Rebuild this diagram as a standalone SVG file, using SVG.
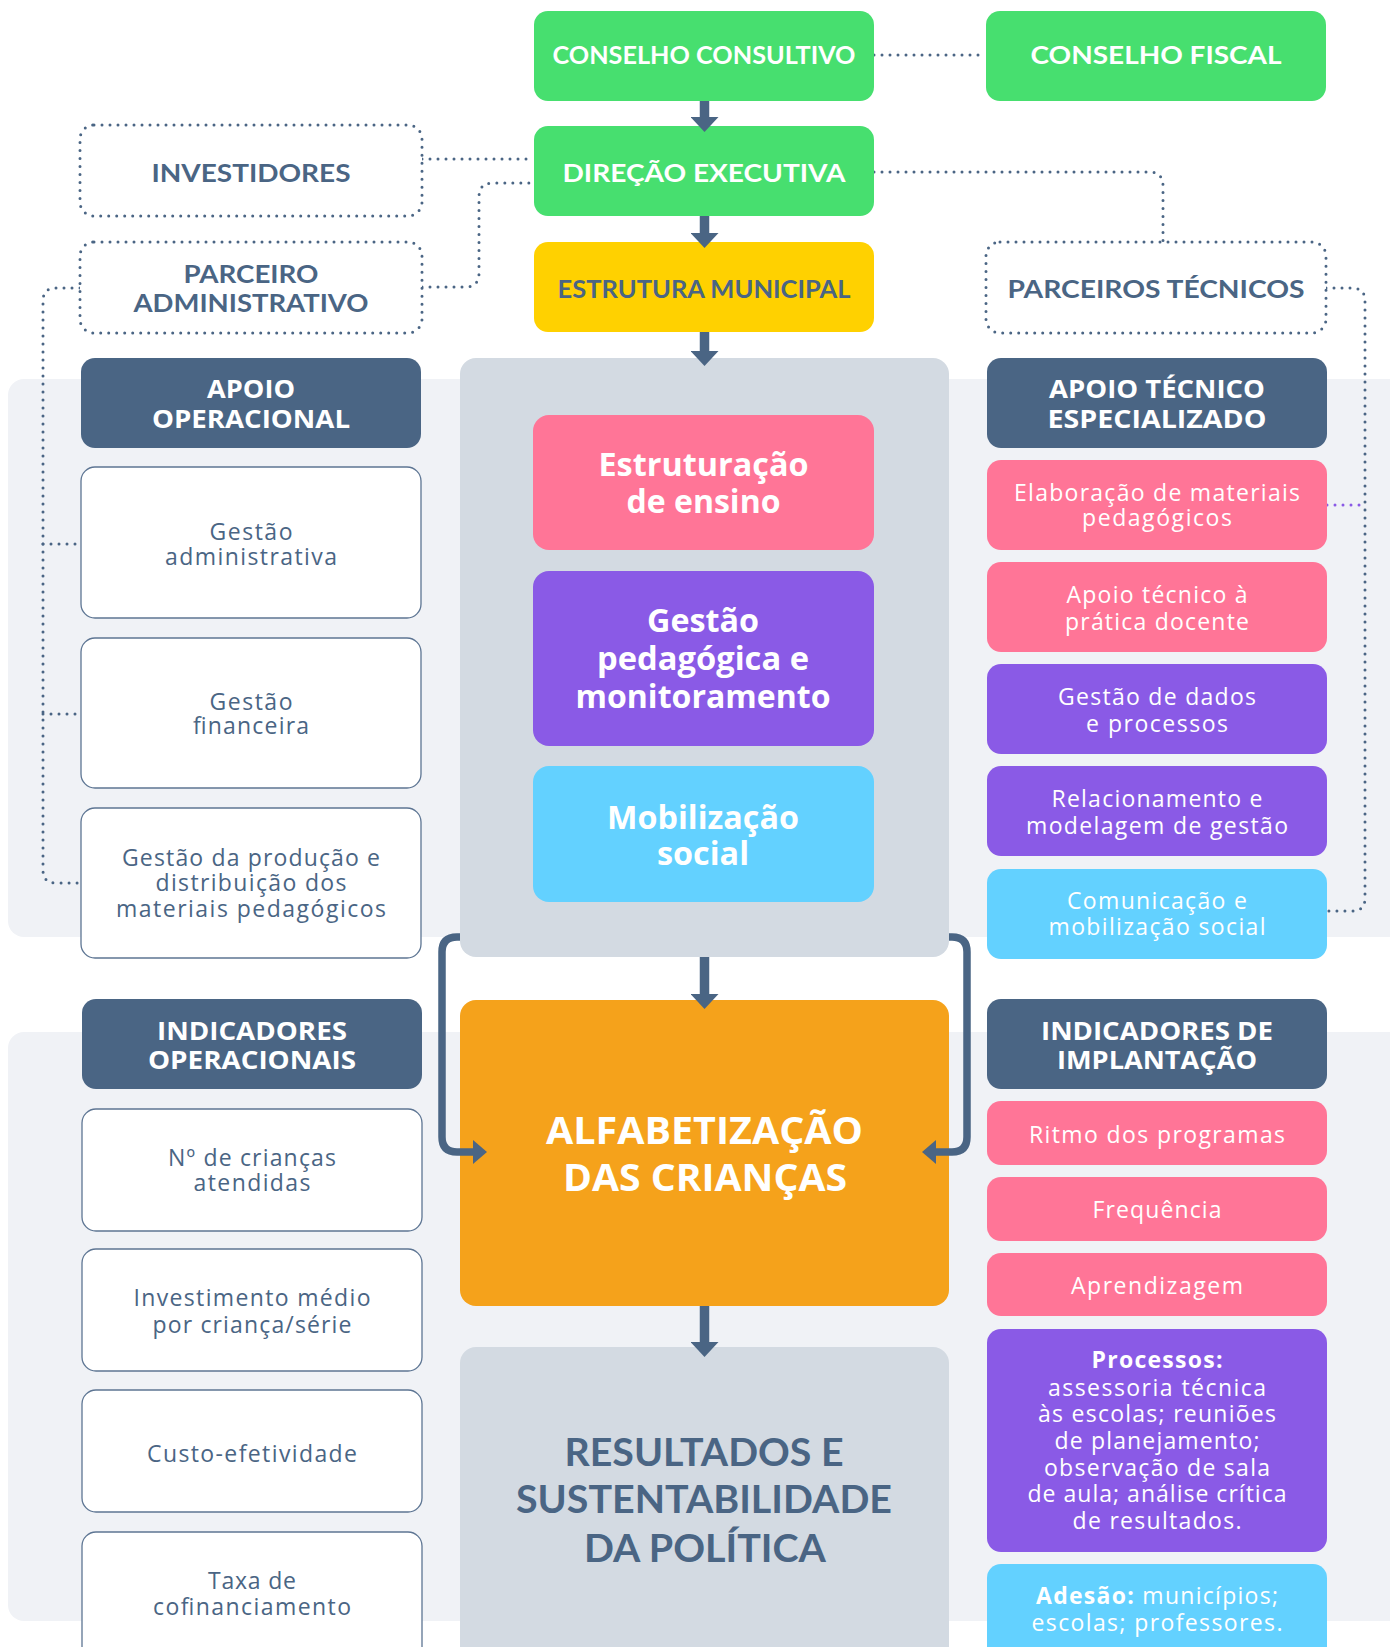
<svg xmlns="http://www.w3.org/2000/svg" width="1390" height="1647" viewBox="0 0 1390 1647">
<defs>
<style>
.green{fill:#47df6f}
.yellow{fill:#ffd100}
.slate{fill:#4a6584}
.pink{fill:#ff7597}
.purple{fill:#8a5ae6}
.cyan{fill:#63d1ff}
.orange{fill:#f5a21b}
.panel{fill:#d3dae2}
.band{fill:#f0f2f6}
.white{fill:#ffffff;stroke:#5d7593;stroke-width:1.3}
.dotbox{fill:#ffffff;stroke:#4a6584;stroke-width:3;stroke-dasharray:0 8;stroke-linecap:round}
.dot{fill:none;stroke:#4a6584;stroke-width:3;stroke-dasharray:0 8;stroke-linecap:round}
.dotp{fill:none;stroke:#8a5ae6;stroke-width:3;stroke-dasharray:0 8;stroke-linecap:round}
.shaft{fill:none;stroke:#4a6584;stroke-width:9.5}
.bracket{fill:none;stroke:#4a6584;stroke-width:7.5}
text{text-anchor:middle}
.top{font-family:Lato,"Liberation Sans",sans-serif;font-weight:700;font-size:25px}
.hd{font-family:"Open Sans","Liberation Sans",sans-serif;font-weight:700;font-size:25px;fill:#ffffff}
.bd{font-family:"Open Sans","Liberation Sans",sans-serif;font-weight:400;font-size:23px}
.cb{font-family:"Open Sans","Liberation Sans",sans-serif;font-weight:700;font-size:32px;fill:#ffffff}
.big{font-family:"Open Sans","Liberation Sans",sans-serif;font-weight:700;font-size:37px;fill:#ffffff}
.res{font-family:Lato,"Liberation Sans",sans-serif;font-weight:700;font-size:38px;fill:#4a6584}
.w{fill:#ffffff}
.s{fill:#4a6584}
.b{font-weight:700}
</style>
<marker id="ah" viewBox="0 0 15 28" refX="0" refY="14" markerWidth="15" markerHeight="28" markerUnits="userSpaceOnUse" orient="auto">
<path d="M0,0 L15,14 L0,28 Z" fill="#4a6584"/>
</marker>
<marker id="ah2" viewBox="0 0 14 24" refX="0" refY="12" markerWidth="14" markerHeight="24" markerUnits="userSpaceOnUse" orient="auto">
<path d="M0,0 L14,12 L0,24 Z" fill="#4a6584"/>
</marker>
</defs>

<g id="backgrounds">
<rect class="band" x="8" y="379" width="1400" height="558" rx="16"/>
<rect class="band" x="8" y="1032" width="1400" height="589" rx="16"/>
</g>

<g id="connectors-dotted">
<path class="dot" d="M874,55 H986"/>
<path class="dot" d="M422,159 H534"/>
<path class="dot" d="M422,287 H465 Q479,287 479,273 V197 Q479,183 493,183 H534"/>
<path class="dot" d="M874,172 H1149 Q1163,172 1163,186 V242"/>
<path class="dot" d="M1326,288 H1352 Q1365,288 1365,301 V898 Q1365,911 1352,911 H1327"/>
<path class="dotp" d="M1327,505 H1365"/>
<path class="dot" d="M80,288 H56 Q43,288 43,301 V870 Q43,883 56,883 H81"/>
<path class="dot" d="M43,544 H81"/>
<path class="dot" d="M43,714 H81"/>
</g>

<g id="node-conselho-consultivo">
<rect class="green" x="534" y="11" width="340" height="90" rx="14"/>
<text class="top w" x="704" y="64" textLength="303" lengthAdjust="spacingAndGlyphs">CONSELHO CONSULTIVO</text>
</g>
<g id="node-conselho-fiscal">
<rect class="green" x="986" y="11" width="340" height="90" rx="14"/>
<text class="top w" x="1156" y="64" textLength="251" lengthAdjust="spacingAndGlyphs">CONSELHO FISCAL</text>
</g>
<g id="node-direcao-executiva">
<rect class="green" x="534" y="126" width="340" height="90" rx="14"/>
<text class="top w" x="704" y="182" textLength="283" lengthAdjust="spacingAndGlyphs">DIREÇÃO EXECUTIVA</text>
</g>
<g id="node-investidores">
<rect class="dotbox" x="80" y="125" width="342" height="91" rx="14"/>
<text class="top s" x="251" y="182" textLength="199" lengthAdjust="spacingAndGlyphs">INVESTIDORES</text>
</g>
<g id="node-parceiro-administrativo">
<rect class="dotbox" x="80" y="242" width="342" height="91" rx="14"/>
<text class="top s"><tspan x="251" y="283" textLength="135" lengthAdjust="spacingAndGlyphs">PARCEIRO</tspan><tspan x="251" y="312" textLength="235" lengthAdjust="spacingAndGlyphs">ADMINISTRATIVO</tspan></text>
</g>
<g id="node-estrutura-municipal">
<rect class="yellow" x="534" y="242" width="340" height="90" rx="14"/>
<text class="top s" x="704" y="298" textLength="293" lengthAdjust="spacingAndGlyphs">ESTRUTURA MUNICIPAL</text>
</g>
<g id="node-parceiros-tecnicos">
<rect class="dotbox" x="986" y="242" width="340" height="91" rx="14"/>
<text class="top s" x="1156" y="298" textLength="297" lengthAdjust="spacingAndGlyphs">PARCEIROS TÉCNICOS</text>
</g>

<g id="node-apoio-operacional">
<rect class="slate" x="81" y="358" width="340" height="90" rx="14"/>
<text class="hd"><tspan x="251" y="398" textLength="88" lengthAdjust="spacingAndGlyphs">APOIO</tspan><tspan x="251" y="428" textLength="198" lengthAdjust="spacingAndGlyphs">OPERACIONAL</tspan></text>
</g>
<g id="node-gestao-administrativa">
<rect class="white" x="81" y="467" width="340" height="151" rx="14"/>
<text class="bd s"><tspan x="251" y="540" textLength="83" lengthAdjust="spacing">Gestão</tspan><tspan x="251" y="565" textLength="172" lengthAdjust="spacing">administrativa</tspan></text>
</g>
<g id="node-gestao-financeira">
<rect class="white" x="81" y="638" width="340" height="150" rx="14"/>
<text class="bd s"><tspan x="251" y="710" textLength="83" lengthAdjust="spacing">Gestão</tspan><tspan x="251" y="734" textLength="116" lengthAdjust="spacing">financeira</tspan></text>
</g>
<g id="node-gestao-producao">
<rect class="white" x="81" y="808" width="340" height="150" rx="14"/>
<text class="bd s"><tspan x="251" y="866" textLength="258" lengthAdjust="spacing">Gestão da produção e</tspan><tspan x="251" y="891" textLength="191" lengthAdjust="spacing">distribuição dos</tspan><tspan x="251" y="917" textLength="270" lengthAdjust="spacing">materiais pedagógicos</tspan></text>
</g>

<g id="node-apoio-tecnico">
<rect class="slate" x="987" y="358" width="340" height="90" rx="14"/>
<text class="hd"><tspan x="1157" y="398" textLength="216" lengthAdjust="spacingAndGlyphs">APOIO TÉCNICO</tspan><tspan x="1157" y="428" textLength="219" lengthAdjust="spacingAndGlyphs">ESPECIALIZADO</tspan></text>
</g>
<g id="node-elaboracao">
<rect class="pink" x="987" y="460" width="340" height="90" rx="14"/>
<text class="bd w"><tspan x="1157" y="501" textLength="286" lengthAdjust="spacing">Elaboração de materiais</tspan><tspan x="1157" y="526" textLength="150" lengthAdjust="spacing">pedagógicos</tspan></text>
</g>
<g id="node-apoio-pratica">
<rect class="pink" x="987" y="562" width="340" height="90" rx="14"/>
<text class="bd w"><tspan x="1157" y="603" textLength="181" lengthAdjust="spacing">Apoio técnico à</tspan><tspan x="1157" y="630" textLength="184" lengthAdjust="spacing">prática docente</tspan></text>
</g>
<g id="node-gestao-dados">
<rect class="purple" x="987" y="664" width="340" height="90" rx="14"/>
<text class="bd w"><tspan x="1157" y="705" textLength="198" lengthAdjust="spacing">Gestão de dados</tspan><tspan x="1157" y="731.5" textLength="142" lengthAdjust="spacing">e processos</tspan></text>
</g>
<g id="node-relacionamento">
<rect class="purple" x="987" y="766" width="340" height="90" rx="14"/>
<text class="bd w"><tspan x="1157" y="807" textLength="211" lengthAdjust="spacing">Relacionamento e</tspan><tspan x="1157" y="833.5" textLength="262" lengthAdjust="spacing">modelagem de gestão</tspan></text>
</g>
<g id="node-comunicacao">
<rect class="cyan" x="987" y="869" width="340" height="90" rx="14"/>
<text class="bd w"><tspan x="1157" y="908.6" textLength="180" lengthAdjust="spacing">Comunicação e</tspan><tspan x="1157" y="935" textLength="217" lengthAdjust="spacing">mobilização social</tspan></text>
</g>

<g id="node-eixos">
<rect class="panel" x="460" y="358" width="489" height="599" rx="16"/>
</g>
<g id="node-estruturacao">
<rect class="pink" x="533" y="415" width="341" height="135" rx="16"/>
<text class="cb"><tspan x="703.5" y="476" textLength="210" lengthAdjust="spacingAndGlyphs">Estruturação</tspan><tspan x="703.5" y="513" textLength="154" lengthAdjust="spacingAndGlyphs">de ensino</tspan></text>
</g>
<g id="node-gestao-pedagogica">
<rect class="purple" x="533" y="571" width="341" height="175" rx="16"/>
<text class="cb"><tspan x="703" y="632" textLength="112" lengthAdjust="spacingAndGlyphs">Gestão</tspan><tspan x="703" y="670" textLength="212" lengthAdjust="spacingAndGlyphs">pedagógica e</tspan><tspan x="703" y="708" textLength="255" lengthAdjust="spacingAndGlyphs">monitoramento</tspan></text>
</g>
<g id="node-mobilizacao">
<rect class="cyan" x="533" y="766" width="341" height="136" rx="16"/>
<text class="cb"><tspan x="703" y="828.5" textLength="192" lengthAdjust="spacingAndGlyphs">Mobilização</tspan><tspan x="703" y="865" textLength="92" lengthAdjust="spacingAndGlyphs">social</tspan></text>
</g>

<g id="node-alfabetizacao">
<rect class="orange" x="460" y="1000" width="489" height="306" rx="16"/>
<text class="big"><tspan x="704.5" y="1144" textLength="317" lengthAdjust="spacingAndGlyphs">ALFABETIZAÇÃO</tspan><tspan x="705" y="1191" textLength="284" lengthAdjust="spacingAndGlyphs">DAS CRIANÇAS</tspan></text>
</g>
<g id="node-resultados">
<rect class="panel" x="460" y="1347" width="489" height="330" rx="16"/>
<text class="res"><tspan x="704" y="1466" textLength="279" lengthAdjust="spacingAndGlyphs">RESULTADOS E</tspan><tspan x="704" y="1513" textLength="376" lengthAdjust="spacingAndGlyphs">SUSTENTABILIDADE</tspan><tspan x="705" y="1562" textLength="242" lengthAdjust="spacingAndGlyphs">DA POLÍTICA</tspan></text>
</g>

<g id="node-indicadores-operacionais">
<rect class="slate" x="82" y="999" width="340" height="90" rx="14"/>
<text class="hd"><tspan x="252" y="1039.5" textLength="190" lengthAdjust="spacingAndGlyphs">INDICADORES</tspan><tspan x="252" y="1069" textLength="208" lengthAdjust="spacingAndGlyphs">OPERACIONAIS</tspan></text>
</g>
<g id="node-criancas-atendidas">
<rect class="white" x="82" y="1109" width="340" height="122" rx="14"/>
<text class="bd s"><tspan x="252" y="1166" textLength="168" lengthAdjust="spacing">Nº de crianças</tspan><tspan x="252" y="1191" textLength="117" lengthAdjust="spacing">atendidas</tspan></text>
</g>
<g id="node-investimento">
<rect class="white" x="82" y="1249" width="340" height="122" rx="14"/>
<text class="bd s"><tspan x="252" y="1306" textLength="237" lengthAdjust="spacing">Investimento médio</tspan><tspan x="252" y="1333" textLength="199" lengthAdjust="spacing">por criança/série</tspan></text>
</g>
<g id="node-custo">
<rect class="white" x="82" y="1390" width="340" height="122" rx="14"/>
<text class="bd s" x="252" y="1461.5" textLength="210" lengthAdjust="spacing">Custo-efetividade</text>
</g>
<g id="node-taxa">
<rect class="white" x="82" y="1532" width="340" height="130" rx="14"/>
<text class="bd s"><tspan x="252" y="1589" textLength="88" lengthAdjust="spacing">Taxa de</tspan><tspan x="252" y="1615" textLength="198" lengthAdjust="spacing">cofinanciamento</tspan></text>
</g>

<g id="node-indicadores-implantacao">
<rect class="slate" x="987" y="999" width="340" height="90" rx="14"/>
<text class="hd"><tspan x="1157" y="1039.5" textLength="232" lengthAdjust="spacingAndGlyphs">INDICADORES DE</tspan><tspan x="1157" y="1069" textLength="200" lengthAdjust="spacingAndGlyphs">IMPLANTAÇÃO</tspan></text>
</g>
<g id="node-ritmo">
<rect class="pink" x="987" y="1101" width="340" height="64" rx="14"/>
<text class="bd w" x="1157" y="1142.5" textLength="256" lengthAdjust="spacing">Ritmo dos programas</text>
</g>
<g id="node-frequencia">
<rect class="pink" x="987" y="1177" width="340" height="64" rx="14"/>
<text class="bd w" x="1157" y="1218" textLength="129" lengthAdjust="spacing">Frequência</text>
</g>
<g id="node-aprendizagem">
<rect class="pink" x="987" y="1253" width="340" height="63" rx="14"/>
<text class="bd w" x="1157" y="1293.5" textLength="172" lengthAdjust="spacing">Aprendizagem</text>
</g>
<g id="node-processos">
<rect class="purple" x="987" y="1329" width="340" height="223" rx="14"/>
<text class="bd w"><tspan class="b" x="1157" y="1368" textLength="131" lengthAdjust="spacing">Processos:</tspan><tspan x="1157" y="1395.6" textLength="218" lengthAdjust="spacing">assessoria técnica</tspan><tspan x="1157" y="1422" textLength="238" lengthAdjust="spacing">às escolas; reuniões</tspan><tspan x="1157" y="1449" textLength="205" lengthAdjust="spacing">de planejamento;</tspan><tspan x="1157" y="1475.5" textLength="226" lengthAdjust="spacing">observação de sala</tspan><tspan x="1157" y="1502" textLength="259" lengthAdjust="spacing">de aula; análise crítica</tspan><tspan x="1157" y="1529" textLength="169" lengthAdjust="spacing">de resultados.</tspan></text>
</g>
<g id="node-adesao">
<rect class="cyan" x="987" y="1564" width="340" height="100" rx="14"/>
<text class="bd w"><tspan x="1157" y="1604" textLength="242" lengthAdjust="spacing"><tspan class="b">Adesão:</tspan> municípios;</tspan><tspan x="1157" y="1631" textLength="251" lengthAdjust="spacing">escolas; professores.</tspan></text>
</g>

<g id="connectors">
<path class="shaft" d="M704.5,101 V117" marker-end="url(#ah)"/>
<path class="shaft" d="M704.5,216 V233" marker-end="url(#ah)"/>
<path class="shaft" d="M704.5,332 V351" marker-end="url(#ah)"/>
<path class="shaft" d="M704.5,957 V994" marker-end="url(#ah)"/>
<path class="shaft" d="M704.5,1306 V1342" marker-end="url(#ah)"/>
<path class="bracket" d="M460,937 H457 Q442,937 442,952 V1137 Q442,1152 457,1152 H473" marker-end="url(#ah2)"/>
<path class="bracket" d="M949,937 H952 Q967,937 967,952 V1137 Q967,1152 952,1152 H936" marker-end="url(#ah2)"/>
</g>
</svg>
